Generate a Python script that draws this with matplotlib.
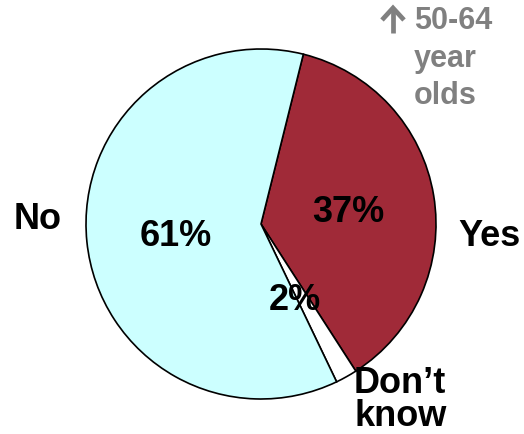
import matplotlib
matplotlib.use('Agg')
import matplotlib.pyplot as plt

# pie data
labels = ['Yes', "Don\u2019t", 'know', 'No']
values = [37, 2, 61]
pct_text = ['37%', '2%', '61%']
colors = ['#A02A38', '#FFFFFF', '#CCFFFF']
note_lines = ['50-64', 'year', 'olds']

plt.rcParams['font.family'] = ['Liberation Sans', 'DejaVu Sans']

fig = plt.figure(figsize=(5.24, 4.35), dpi=100)
ax = fig.add_axes([0, 0, 1, 1])

cx, cy, r = 261, 210, 175
ax.pie(values, colors=colors, startangle=76, counterclock=False,
       center=(cx, cy), radius=r, frame=True,
       wedgeprops=dict(edgecolor='black', linewidth=1.2))
ax.set_xlim(0, 524)
ax.set_ylim(0, 435)
ax.set_aspect('equal')
ax.axis('off')

H = 435
fs = 26
# percentages inside the slices
ax.text(348, H - 213, pct_text[0], fontsize=fs, fontweight='bold', ha='center', va='center')
ax.text(295, H - 300, pct_text[1], fontsize=fs, fontweight='bold', ha='center', va='center')
ax.text(176, H - 237, pct_text[2], fontsize=fs, fontweight='bold', ha='center', va='center')

# outside labels
ax.text(489, H - 237, labels[0], fontsize=fs, fontweight='bold', ha='center', va='center')
ax.text(354, H - 384, labels[1], fontsize=fs, fontweight='bold', ha='left', va='center')
ax.text(354, H - 417, labels[2], fontsize=fs, fontweight='bold', ha='left', va='center')
ax.text(38, H - 220, labels[3], fontsize=fs, fontweight='bold', ha='center', va='center')

# age group note
for i, t in enumerate(note_lines):
    ax.text(414, H - (21 + 37.5 * i), t, fontsize=22, fontweight='bold',
            color='#808080', ha='left', va='center')
# up arrow (open chevron head)
ax.plot([393, 393], [H - 34, H - 10], color='#808080', lw=3.4, solid_capstyle='butt')
ax.plot([382, 393, 404], [H - 21, H - 9, H - 21], color='#808080', lw=3.4,
        solid_joinstyle='miter', solid_capstyle='butt')

fig.savefig('out.png', dpi=100)
